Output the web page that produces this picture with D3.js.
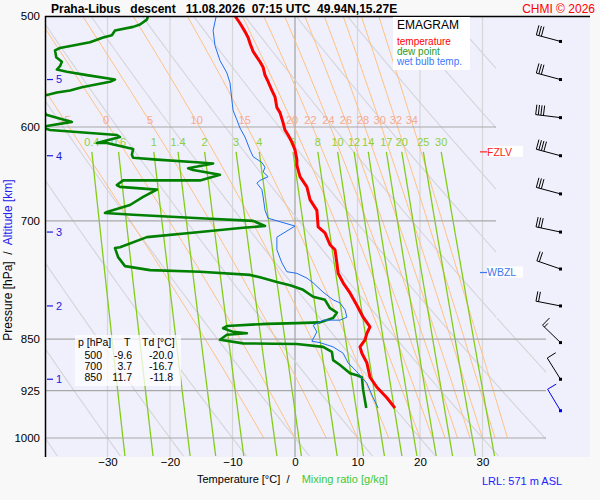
<!DOCTYPE html>
<html>
<head>
<meta charset="utf-8">
<script src="https://cdn.jsdelivr.net/npm/d3@7"></script>
<style>
  body { margin: 0; background: #f8f8f8; }
  svg { display: block; font-family: "Liberation Sans", Arial, sans-serif; }
</style>
</head>
<body>
<svg id="chart" width="600" height="500"></svg>
<script>
// Sounding profiles: [pressure hPa, value °C]
const temperature = [
  [500, -9.6], [506, -8.8], [513, -8.0], [518, -7.5], [523, -7.2], [530, -6.7],
  [535, -6.1], [539, -5.6], [544, -5.1], [551, -4.8], [557, -4.3], [565, -3.7],
  [571, -3.2], [581, -2.9], [586, -2.4], [596, -1.9], [603, -1.6], [608, -1.1],
  [615, -0.5], [623, 0.0], [633, 0.3], [639, 0.3], [651, 0.8], [662, 1.9],
  [676, 2.4], [688, 3.5], [707, 3.7], [714, 4.8], [728, 5.6], [734, 6.4],
  [750, 6.7], [763, 6.9], [775, 7.7], [788, 8.8], [804, 9.9], [820, 10.9],
  [833, 12.0], [842, 11.5], [851, 11.2], [861, 10.4], [870, 10.7], [884, 11.5],
  [905, 12.0], [920, 13.1], [936, 14.7], [952, 16.0],
];

const wetBulb = [
  [500, -12.6], [512, -13.1], [525, -12.8], [538, -12.0], [549, -10.9], [558, -10.4],
  [574, -10.1], [584, -9.9], [593, -9.3], [601, -8.8], [610, -8.0], [623, -7.2],
  [630, -6.7], [636, -5.3], [641, -4.8], [646, -5.1], [651, -4.3], [655, -5.6],
  [658, -6.1], [665, -5.3], [673, -5.1], [688, -4.8], [697, -4.3], [701, -2.4],
  [706, 0.0], [719, -2.9], [734, -2.9], [750, -2.1], [761, -1.3], [763, 0.3],
  [769, 1.9], [775, 2.9], [787, 4.5], [797, 6.1], [801, 7.2], [810, 8.0],
  [820, 8.3], [824, 7.2], [824, 4.5], [831, 2.9], [840, 3.5], [853, 2.7],
  [855, 4.0], [861, 6.1], [870, 7.7], [884, 8.5], [897, 9.9], [914, 11.5],
  [936, 12.5], [952, 13.3],
];

const dewPoint = [
  [500, -23.5], [503, -23.7], [507, -24.8], [509, -25.9], [512, -28.8], [516, -29.3],
  [518, -30.7], [522, -32.8], [527, -37.6], [529, -38.4], [535, -38.2], [539, -37.3],
  [543, -37.6], [546, -38.1], [548, -36.5], [551, -33.3], [555, -28.8], [557, -29.6],
  [562, -34.1], [565, -36.0], [567, -38.1], [570, -40.2], [579, -40.8], [588, -39.8],
  [595, -35.7], [599, -39.7], [601, -40.2], [603, -39.2], [608, -28.5], [610, -28.0],
  [616, -31.7], [616, -30.1], [622, -25.9], [628, -26.1], [631, -25.9], [633, -22.1],
  [636, -15.2], [637, -13.1], [642, -17.1], [644, -16.3], [649, -12.0], [655, -15.2],
  [655, -27.5], [660, -28.5], [662, -28.0], [665, -22.1], [673, -24.3], [682, -26.4],
  [690, -30.1], [691, -30.4], [693, -25.9], [697, -15.2], [700, -6.7], [706, -4.8],
  [708, -8.3], [713, -15.2], [719, -23.7], [731, -28.0], [732, -28.8], [743, -28.3],
  [754, -27.2], [759, -23.2], [761, -15.2], [765, -7.2], [768, -5.6], [774, -2.9],
  [778, -0.8], [784, 1.3], [793, 2.9], [797, 4.8], [808, 5.6], [814, 6.7],
  [821, 6.1], [827, 4.0], [828, 0.3], [829, -4.5], [832, -10.9], [835, -11.5],
  [840, -9.9], [842, -7.7], [844, -10.9], [851, -12.0], [856, -8.3], [857, 0.3],
  [861, 4.5], [868, 5.9], [880, 6.1], [887, 7.2], [899, 8.8], [902, 9.9],
  [905, 10.7], [924, 10.9], [952, 11.4],
];

// Diagram background
const pressureTicks = [500, 600, 700, 850, 925, 1000];
const isobars = [600, 700, 850, 925, 1000];
const tempTicks = [-30, -20, -10, 0, 10, 20, 30];
const dryThetas = [-40, -30, -20, -10, 0, 10, 20, 30, 40, 50, 60, 70, 80, 90, 100, 110, 120];
const moistThetas = [-5, 0, 5, 10, 15, 20, 22, 24, 26, 28, 30, 32, 34];
const mixingRatios = [0.4, 0.6, 1, 1.4, 2, 3, 4, 6, 8, 10, 12, 14, 17, 20, 25, 30];

// Altitude marks (km) and where they sit on the pressure axis
const altitudeKm = [1, 2, 3, 4, 5];
const altitudePress = [908, 805, 713, 629, 555];

// Wind barbs
const windAlt = [5.5, 5, 4.5, 4, 3.5, 3, 2.5, 2, 1.5, 1, 0.571];
const windDir = [285, 285, 277, 285, 285, 282, 289, 281, 314, 328, 329];
const windSpeed = [30, 30, 40, 40, 30, 30, 20, 20, 15, 10, 10];

// Levels
const freezingLevelP = 625;
const wetBulbZeroP = 762;

// Table
const tableP = [500, 700, 850];
const tableT = [-9.6, 3.7, 11.7];
const tableTd = [-20.0, -16.7, -11.8];

const legendItems = ["temperature", "dew point", "wet bulb temp."];
const legendColors = ["#ff0000", "#1f9a1f", "#3a78ff"];

// Scales
const x = d3.scaleLinear().domain([-40, 47.2]).range([45, 590]);
const y = d3.scaleLog().domain([500, 1030]).range([16, 456]);
const altY = d3.scaleLinear().domain(altitudeKm).range(altitudePress.map(y));

const svg = d3.select("#chart");
const profileLine = d3.line().x((d) => x(d[1])).y((d) => y(d[0]));

// Thermodynamic helpers
function dryT(theta, p) {
  return (theta + 273.15) * Math.pow(p / 1000, 0.2857) - 273.15;
}

function moistLapse(p, T) {
  const tc = T - 273.15;
  const es = 6.112 * Math.exp((17.67 * tc) / (tc + 243.5));
  const rs = (0.622 * es) / (p - es);
  const num = 287.04 * T + 2.501e6 * rs;
  const den = 1005.7 + (2.501e6 * 2.501e6 * rs * 0.622) / (287.04 * T * T);
  return num / den / p;
}

function pseudoAdiabat(thetaW) {
  const pts = [[1000, thetaW]];
  let T = thetaW + 273.15;
  let p = 1000;
  const dp = -5;
  while (p > 500) {
    const k1 = moistLapse(p, T);
    const k2 = moistLapse(p + dp / 2, T + (k1 * dp) / 2);
    T += k2 * dp;
    p += dp;
    pts.push([p, T - 273.15]);
  }
  return pts;
}

function mixingT(w, p) {
  const e = (w * p) / (622 + w);
  const l = Math.log(e / 6.112);
  return (243.5 * l) / (17.67 - l);
}

// Clip paths
const defs = svg.append("defs");
defs.append("clipPath").attr("id", "plot-clip")
  .append("rect").attr("x", 45).attr("y", 16).attr("width", 545).attr("height", 441);
defs.append("clipPath").attr("id", "grid-clip")
  .append("polygon").attr("points", "45,16 496,16 496,318 546,318 546,457 45,457");

// Plot background
svg.append("rect")
  .attr("x", 45).attr("y", 16).attr("width", 545).attr("height", 441)
  .attr("fill", "#f0f0fd");

// Isotherms
svg.append("g")
  .selectAll("line")
  .data(tempTicks)
  .join("line")
  .attr("x1", (d) => x(d)).attr("x2", (d) => x(d))
  .attr("y1", 16).attr("y2", 457)
  .attr("stroke", (d) => (d === 0 ? "#a0a0a0" : "#d6d6d6"))
  .attr("stroke-width", 1.2);

// Dry adiabats
const pFull = d3.range(500, 1031, 10);
svg.append("g")
  .attr("clip-path", "url(#grid-clip)")
  .selectAll("path")
  .data(dryThetas)
  .join("path")
  .attr("d", (th) => profileLine(pFull.map((p) => [p, dryT(th, p)])))
  .attr("fill", "none")
  .attr("stroke", "#d4d4d8")
  .attr("stroke-width", 1.1);

// Moist adiabats
const moistLines = moistThetas.map(pseudoAdiabat);
svg.append("g")
  .attr("clip-path", "url(#grid-clip)")
  .selectAll("path")
  .data(moistLines)
  .join("path")
  .attr("d", profileLine)
  .attr("fill", "none")
  .attr("stroke", "#ffc080")
  .attr("stroke-width", 1);

// Mixing ratio lines
const pMix = d3.range(625, 1031, 5);
svg.append("g")
  .attr("clip-path", "url(#plot-clip)")
  .selectAll("path")
  .data(mixingRatios)
  .join("path")
  .attr("d", (w) => profileLine(pMix.map((p) => [p, mixingT(w, p)])))
  .attr("fill", "none")
  .attr("stroke", "#84cc18")
  .attr("stroke-width", 1.3);

// Isobars
svg.append("g")
  .selectAll("line")
  .data(isobars)
  .join("line")
  .attr("x1", 45)
  .attr("x2", (d) => (d < 800 ? 496 : 546))
  .attr("y1", (d) => y(d)).attr("y2", (d) => y(d))
  .attr("stroke", "#a8a8a8")
  .attr("stroke-width", 1.2);

// Moist adiabat labels
svg.append("g")
  .selectAll("text")
  .data(moistThetas)
  .join("text")
  .attr("x", (d, i) => x(moistLines[i].find((pt) => pt[0] === 595)[1]))
  .attr("y", 124)
  .attr("text-anchor", "middle")
  .attr("font-size", "11px")
  .attr("fill", "#f5a98c")
  .text((d) => d);

// Mixing ratio labels
svg.append("g")
  .selectAll("text")
  .data(mixingRatios)
  .join("text")
  .attr("x", (d) => x(mixingT(d, 625)))
  .attr("y", 146)
  .attr("text-anchor", "middle")
  .attr("font-size", "11px")
  .attr("fill", "#8fcf3a")
  .text((d) => d);

// Profiles
const profiles = svg.append("g").attr("clip-path", "url(#plot-clip)");
profiles.append("path")
  .attr("d", profileLine(dewPoint))
  .attr("fill", "none")
  .attr("stroke", "#008000")
  .attr("stroke-width", 2.6)
  .attr("stroke-linejoin", "round");
profiles.append("path")
  .attr("d", profileLine(wetBulb))
  .attr("fill", "none")
  .attr("stroke", "#1f6ff0")
  .attr("stroke-width", 1);
profiles.append("path")
  .attr("d", profileLine(temperature))
  .attr("fill", "none")
  .attr("stroke", "#ff0000")
  .attr("stroke-width", 3)
  .attr("stroke-linejoin", "round");

// Axes frame
svg.append("line")
  .attr("x1", 45.5).attr("x2", 45.5).attr("y1", 16).attr("y2", 457)
  .attr("stroke", "#000").attr("stroke-width", 1.5);
svg.append("line")
  .attr("x1", 45).attr("x2", 590).attr("y1", 16.5).attr("y2", 16.5)
  .attr("stroke", "#000").attr("stroke-width", 1.5);

// Pressure labels
const yAxis = svg.append("g")
  .attr("transform", "translate(45,0)")
  .call(d3.axisLeft(y).tickValues(pressureTicks).tickFormat(d3.format("d")).tickSize(0).tickPadding(5));
yAxis.select(".domain").remove();
yAxis.selectAll("text").attr("font-size", "11.5px").attr("fill", "#000").attr("font-family", null);

// Temperature labels
const xAxis = svg.append("g")
  .attr("transform", "translate(0,456)")
  .call(d3.axisBottom(x).tickValues(tempTicks).tickSize(0).tickPadding(2));
xAxis.select(".domain").remove();
xAxis.selectAll("text").attr("font-size", "11.5px").attr("fill", "#000").attr("font-family", null);

// Altitude marks
const alt = svg.append("g");
alt.selectAll("line")
  .data(altitudeKm)
  .join("line")
  .attr("x1", 47).attr("x2", 53)
  .attr("y1", (d) => altY(d)).attr("y2", (d) => altY(d))
  .attr("stroke", "#1a1ae0").attr("stroke-width", 1.2);
alt.selectAll("text")
  .data(altitudeKm)
  .join("text")
  .attr("x", 56)
  .attr("y", (d) => altY(d))
  .attr("dy", "0.35em")
  .attr("font-size", "11px")
  .attr("fill", "#1a1ae0")
  .text((d) => d);

// Wind barbs
const barbs = svg.append("g");
windAlt.forEach((a, i) => {
  const cx = 560.5;
  const cy = altY(a);
  const ang = (windDir[i] * Math.PI) / 180;
  const ux = Math.sin(ang), uy = -Math.cos(ang);
  const fx = -uy, fy = ux;
  const tx = cx + 25 * ux, ty = cy + 25 * uy;
  let path = `M${cx},${cy}L${tx},${ty}`;
  let speed = windSpeed[i];
  let k = 0;
  while (speed >= 10) {
    const bx = tx - k * 2.6 * ux, by = ty - k * 2.6 * uy;
    path += `M${bx},${by}l${10 * fx},${10 * fy}`;
    speed -= 10;
    k++;
  }
  if (speed >= 5) {
    const bx = tx - k * 2.6 * ux, by = ty - k * 2.6 * uy;
    path += `M${bx},${by}l${5 * fx},${5 * fy}`;
  }
  const color = i === windAlt.length - 1 ? "#0000ee" : "#000";
  barbs.append("path")
    .attr("d", path)
    .attr("fill", "none")
    .attr("stroke", color)
    .attr("stroke-width", 1);
  barbs.append("rect")
    .attr("x", cx - 1.5).attr("y", cy - 1.5)
    .attr("width", 3).attr("height", 3)
    .attr("fill", color);
});

// FZLV / WBZL
const levels = [
  { p: freezingLevelP, name: "FZLV", color: "#ff2020" },
  { p: wetBulbZeroP, name: "WBZL", color: "#3a78f0" },
];
levels.forEach((lv) => {
  const ly = y(lv.p);
  svg.append("rect")
    .attr("x", 487).attr("y", ly - 6).attr("width", 36).attr("height", 11)
    .attr("fill", "#fff");
  svg.append("line")
    .attr("x1", 480).attr("x2", 487).attr("y1", ly).attr("y2", ly)
    .attr("stroke", lv.color).attr("stroke-width", 1.2);
  svg.append("text")
    .attr("x", 487).attr("y", ly).attr("dy", "0.36em")
    .attr("font-size", "10.5px").attr("fill", lv.color)
    .text(lv.name);
});

// Legend
svg.append("rect")
  .attr("x", 393).attr("y", 17).attr("width", 77).attr("height", 53)
  .attr("fill", "#fff");
svg.append("text")
  .attr("x", 397).attr("y", 29)
  .attr("font-size", "12px")
  .text("EMAGRAM");
legendItems.forEach((item, i) => {
  svg.append("text")
    .attr("x", 397).attr("y", 45 + i * 9.8)
    .attr("font-size", "10px")
    .attr("fill", legendColors[i])
    .text(item);
});

// Value table
svg.append("rect")
  .attr("x", 75).attr("y", 335).attr("width", 106).attr("height", 51)
  .attr("fill", "#fff").attr("opacity", 0.75);
const table = svg.append("g").attr("font-size", "10.5px").attr("fill", "#000");
table.append("text").attr("x", 78).attr("y", 346).text("p [hPa]");
table.append("text").attr("x", 124).attr("y", 346).text("T");
table.append("text").attr("x", 142).attr("y", 346).text("Td [°C]");
tableP.forEach((p, i) => {
  const ty = 359 + i * 11;
  table.append("text").attr("x", 102).attr("y", ty).attr("text-anchor", "end").text(p);
  table.append("text").attr("x", 132).attr("y", ty).attr("text-anchor", "end").text(tableT[i].toFixed(1));
  table.append("text").attr("x", 173).attr("y", ty).attr("text-anchor", "end").text(tableTd[i].toFixed(1));
});

// Title
svg.append("text")
  .attr("x", 51).attr("y", 13)
  .attr("font-size", "12px").attr("font-weight", "bold")
  .style("white-space", "pre")
  .text("Praha-Libus   descent   11.08.2026  07:15 UTC  49.94N,15.27E");
svg.append("text")
  .attr("x", 595).attr("y", 13)
  .attr("text-anchor", "end")
  .attr("font-size", "12px").attr("fill", "#ff0000")
  .text("CHMI © 2026");

// Axis titles
const yTitle = svg.append("text")
  .attr("transform", "translate(12,260) rotate(-90)")
  .attr("text-anchor", "middle")
  .attr("font-size", "12px")
  .style("white-space", "pre");
yTitle.append("tspan").attr("fill", "#000").text("Pressure [hPa]  /  ");
yTitle.append("tspan").attr("fill", "#2222ee").text("Altitude [km]");

const xTitle = svg.append("text")
  .attr("x", 197).attr("y", 483)
  .attr("font-size", "11px")
  .style("white-space", "pre");
xTitle.append("tspan").attr("fill", "#000").text("Temperature [°C]  /    ");
xTitle.append("tspan").attr("fill", "#3cc83c").text("Mixing ratio [g/kg]");

svg.append("text")
  .attr("x", 482).attr("y", 485)
  .attr("font-size", "11px")
  .attr("fill", "#2222ff")
  .text("LRL: 571 m ASL");
</script>
</body>
</html>
